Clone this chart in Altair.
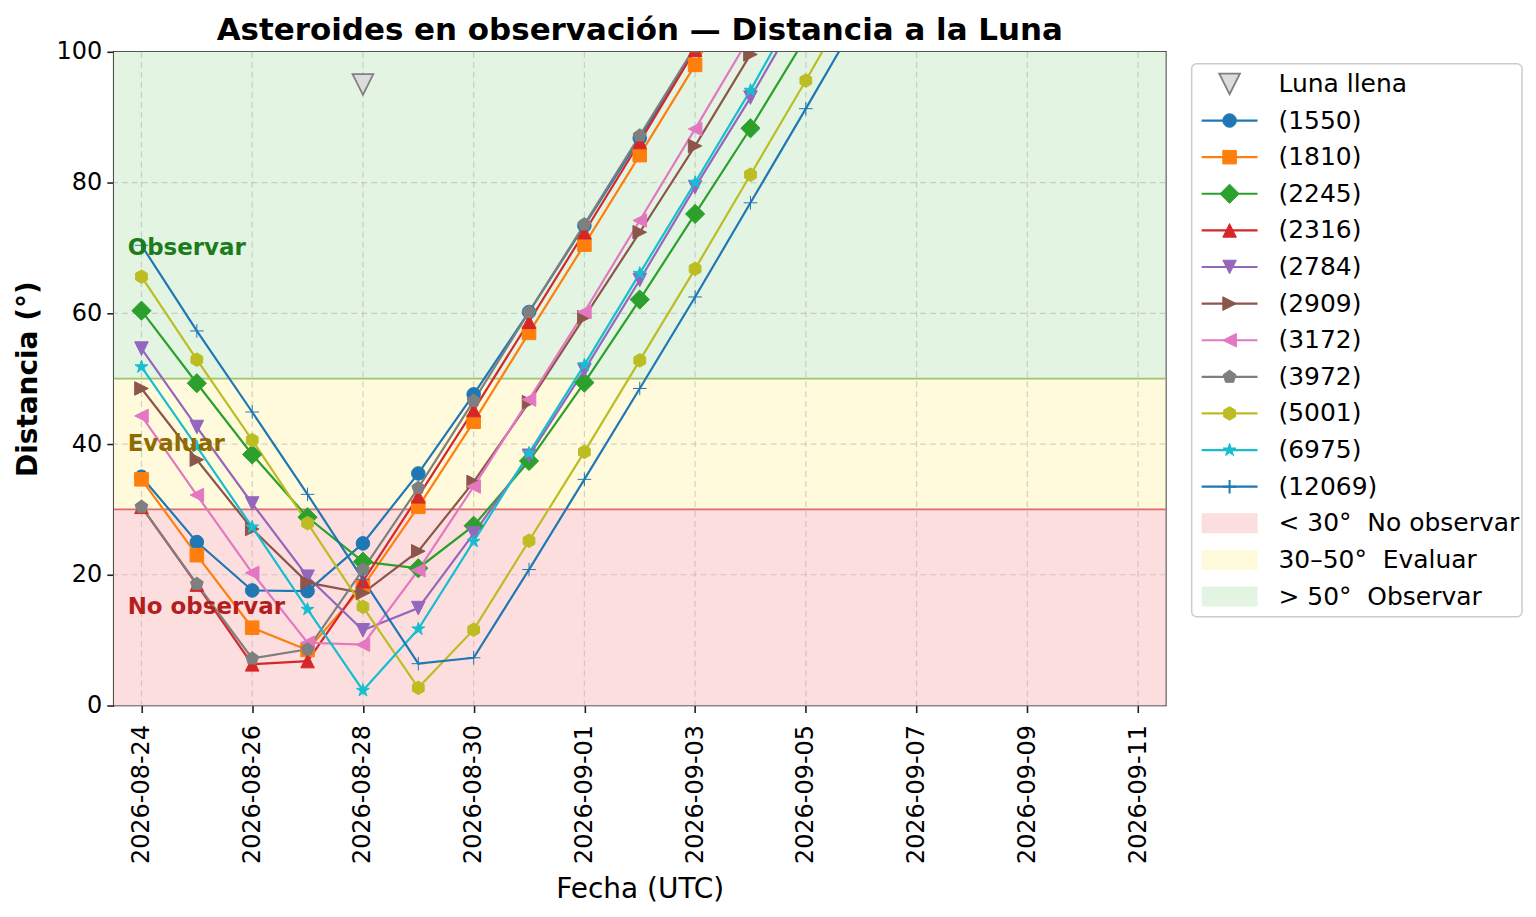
import pandas as pd
import altair as alt

# --- data ------------------------------------------------------------------
dates = ["2026-08-24", "2026-08-25", "2026-08-26", "2026-08-27", "2026-08-28",
         "2026-08-29", "2026-08-30", "2026-08-31", "2026-09-01", "2026-09-02",
         "2026-09-03", "2026-09-04", "2026-09-05", "2026-09-06"]

names = ["(1550)", "(1810)", "(2245)", "(2316)", "(2784)", "(2909)",
         "(3172)", "(3972)", "(5001)", "(6975)", "(12069)"]

d1550  = [35.0, 25.0, 17.6, 17.5, 24.8, 35.5, 47.6, 60.2, 73.4, 86.8, 100.6, 114.0]
d1810  = [34.6, 23.0, 11.9, 8.5, 18.2, 30.4, 43.4, 57.0, 70.5, 84.2, 98.0, 113.8]
d2245  = [60.4, 49.3, 38.4, 28.8, 22.0, 21.0, 27.5, 37.4, 49.4, 62.1, 75.2, 88.3, 102.2, 115.5]
d2316  = [30.4, 18.5, 6.3, 6.8, 19.0, 32.0, 45.2, 58.7, 72.4, 86.2, 100.3, 114.0]
d2784  = [54.6, 42.6, 30.9, 19.7, 11.5, 14.9, 26.3, 38.2, 51.3, 65.1, 79.3, 93.0, 107.7]
d2909  = [48.5, 37.6, 27.0, 18.8, 17.2, 23.6, 34.2, 46.4, 59.4, 72.4, 85.6, 99.6, 113.5]
d3172  = [44.3, 32.2, 20.3, 9.6, 9.3, 20.7, 33.5, 46.8, 60.2, 74.2, 88.2, 102.5]
d3972  = [30.4, 18.6, 7.2, 8.6, 20.8, 33.3, 46.6, 60.2, 73.6, 87.2, 100.8, 114.5]
d5001  = [65.6, 52.9, 40.6, 27.9, 15.1, 2.7, 11.6, 25.2, 38.8, 52.8, 66.8, 81.2, 95.6, 110.5]
d6975  = [51.8, 39.6, 27.3, 14.7, 2.3, 11.7, 25.1, 38.6, 52.1, 66.1, 80.0, 94.1, 109.3]
d12069 = [70.4, 57.3, 44.9, 32.3, 19.3, 6.4, 7.3, 20.8, 34.6, 48.5, 62.5, 76.9, 91.3, 105.9]
series = [d1550, d1810, d2245, d2316, d2784, d2909, d3172, d3972, d5001, d6975, d12069]

colors = ["#1f77b4", "#ff7f0e", "#2ca02c", "#d62728", "#9467bd", "#8c564b",
          "#e377c2", "#7f7f7f", "#bcbd22", "#17becf", "#1f77b4"]

# matplotlib-like markers as vega symbol paths
DIAMOND = "M0,-1.414L1.414,0L0,1.414L-1.414,0Z"
TRI_UP = "M0,-1L1,1L-1,1Z"
TRI_DOWN = "M0,1L1,-1L-1,-1Z"
TRI_RIGHT = "M1,0L-1,-1L-1,1Z"
TRI_LEFT = "M-1,0L1,-1L1,1Z"
PENTAGON = "M0,-1L0.951,-0.309L0.588,0.809L-0.588,0.809L-0.951,-0.309Z"
HEXAGON = "M0,-1L0.866,-0.5L0.866,0.5L0,1L-0.866,0.5L-0.866,-0.5Z"
STAR = ("M0,-1L0.2245,-0.309L0.951,-0.309L0.363,0.118L0.588,0.809L0,0.382"
        "L-0.588,0.809L-0.363,0.118L-0.951,-0.309L-0.2245,-0.309Z")
PLUS = "M-1,0L1,0M0,-1L0,1"
SWATCH = "M-2.8,-1L2.8,-1L2.8,1L-2.8,1Z"
shapes = ["circle", "square", DIAMOND, TRI_UP, TRI_DOWN, TRI_RIGHT, TRI_LEFT,
          PENTAGON, HEXAGON, STAR, PLUS]
edge = [1, 1, 1, 1, 1, 1, 1, 1, 1, 1, 2]

moon_date = ["2026-08-28"]
moon_value = [95]

band_lo = [0, 30, 50]
band_hi = [30, 50, 100]
band_fill = ["#fddede", "#fffadc", "#e3f4e2"]
band_legend = ["< 30°\u00a0\u00a0No observar", "30–50°\u00a0\u00a0Evaluar", "> 50°\u00a0\u00a0Observar"]

thr_value = [30, 50]
thr_color = ["#dc6b6b", "#9cc46c"]

zone_text = ["Observar", "Evaluar", "No observar"]
zone_value = [70, 40, 15]
zone_color = ["#1c7c1c", "#8f6c00", "#b31e1e"]
zone_date = "2026-08-23T18:00:00Z"

tick_dates = ["2026-08-24", "2026-08-26", "2026-08-28", "2026-08-30", "2026-09-01",
              "2026-09-03", "2026-09-05", "2026-09-07", "2026-09-09", "2026-09-11"]
y_ticks = [0, 20, 40, 60, 80, 100]
y_grid = [20, 40, 60, 80]

# --- tables -----------------------------------------------------------------
rows = []
for name, vals in zip(names, series):
    for d, v in zip(dates, vals):
        rows.append({"date": d, "name": name, "value": v})
df = pd.DataFrame(rows)

bands = pd.DataFrame({"value": band_lo, "value2": band_hi, "fill": band_fill})
thr = pd.DataFrame({"value": thr_value, "c": thr_color})
zones = pd.DataFrame({"date": [zone_date] * 3, "value": zone_value,
                      "text": zone_text, "c": zone_color})
moon = pd.DataFrame({"date": moon_date, "value": moon_value})
vgrid = pd.DataFrame({"date": tick_dates})
hgrid = pd.DataFrame({"value": y_grid})

FONT = "DejaVu Sans"

x_enc = alt.X(
    "date:T",
    scale=alt.Scale(type="utc", domain=[
        alt.DateTime(year=2026, month=8, date=23, hours=12, utc=True),
        alt.DateTime(year=2026, month=9, date=11, hours=12, utc=True)]),
    axis=alt.Axis(values=[alt.DateTime(year=int(t[:4]), month=int(t[5:7]), date=int(t[8:]), utc=True)
                          for t in tick_dates],
                  format="%Y-%m-%d", labelAngle=270, title="Fecha (UTC)",
                  grid=False, domain=False, tickSize=7, tickWidth=1.6, tickColor="#222222",
                  labelFontSize=24, labelColor="black", labelPadding=12,
                  titleFontSize=28, titleFontWeight="normal", titleColor="black",
                  titlePadding=12, labelFont=FONT, titleFont=FONT),
)
y_enc = alt.Y(
    "value:Q",
    scale=alt.Scale(domain=[0, 100], nice=False, zero=False),
    axis=alt.Axis(values=y_ticks, title="Distancia (°)", grid=False, domain=False,
                  tickSize=7, tickWidth=1.6, tickColor="#222222",
                  labelFontSize=24, labelColor="black", labelPadding=5,
                  titleFontSize=28, titleFontWeight="bold", titleColor="black",
                  titlePadding=14, labelFont=FONT, titleFont=FONT),
)
color_scale = alt.Scale(domain=names, range=colors)

band_layer = alt.Chart(bands).mark_rect().encode(
    y=y_enc, y2="value2:Q", color=alt.Color("fill:N", scale=None))
vgrid_layer = alt.Chart(vgrid).mark_rule(
    color="#aaaaaa", opacity=0.5, strokeDash=[6, 4], strokeWidth=1.2).encode(x=x_enc)
hgrid_layer = alt.Chart(hgrid).mark_rule(
    color="#aaaaaa", opacity=0.5, strokeDash=[6, 4], strokeWidth=1.2).encode(y=y_enc)
thr_layer = alt.Chart(thr).mark_rule(strokeWidth=1.8).encode(
    y=y_enc, color=alt.Color("c:N", scale=None))

lines = alt.Chart(df).mark_line(strokeWidth=2.2, clip=True).encode(
    x=x_enc, y=y_enc,
    color=alt.Color("name:N", scale=color_scale, legend=None),
    detail="name:N")
points = alt.Chart(df).mark_point(filled=True, size=185, opacity=1, clip=True).encode(
    x=x_enc, y=y_enc,
    fill=alt.Fill("name:N", scale=color_scale, legend=None),
    stroke=alt.Stroke("name:N", scale=color_scale, legend=None),
    shape=alt.Shape("name:N", scale=alt.Scale(domain=names, range=shapes), legend=None),
    strokeWidth=alt.StrokeWidth("name:N", scale=alt.Scale(domain=names, range=edge), legend=None))
zone_layer = alt.Chart(zones).mark_text(
    align="left", baseline="middle", fontSize=23, fontWeight="bold", font=FONT).encode(
    x=x_enc, y=y_enc, text="text:N", color=alt.Color("c:N", scale=None))
moon_layer = alt.Chart(moon).mark_point(
    shape=TRI_DOWN, size=430, filled=True, fill="#dcdcdc", stroke="#808080",
    strokeWidth=1.8, opacity=1).encode(x=x_enc, y=y_enc)

main = alt.layer(
    band_layer, vgrid_layer, hgrid_layer, thr_layer, lines, points, zone_layer, moon_layer
).properties(
    width=1054, height=655,
    title=alt.TitleParams("Asteroides en observación — Distancia a la Luna",
                          fontSize=31, fontWeight="bold", font=FONT, color="black",
                          anchor="middle", frame="group", offset=-7),
    view=alt.ViewBackground(stroke="#222222", strokeWidth=1.7),
)

# --- legend panel -----------------------------------------------------------
leg_labels = ["Luna llena"] + names + band_legend
leg = pd.DataFrame({
    "label": leg_labels,
    "kind": ["moon"] + ["series"] * len(names) + ["band"] * 3,
    "c": ["#dcdcdc"] + colors + band_fill,
    "s": [TRI_DOWN] + shapes + [SWATCH] * 3,
    "sw": [1.8] + edge + [0, 0, 0],
    "sc": ["#808080"] + colors + band_fill,
    "sz": [430] + [185] * len(names) + [400] * 3,
})
ly = alt.Y("label:N", sort=leg_labels, scale=alt.Scale(type="point", padding=0.55), axis=None)
leg_base = alt.Chart(leg)
leg_lines = leg_base.mark_rule(strokeWidth=2.2).encode(
    x=alt.value(10), x2=alt.value(66), y=ly, color=alt.Color("c:N", scale=None)
).transform_filter(alt.datum.kind == "series")
leg_marks = leg_base.mark_point(filled=True, opacity=1).encode(
    x=alt.value(38), y=ly,
    fill=alt.Fill("c:N", scale=None),
    stroke=alt.Stroke("sc:N", scale=None),
    strokeWidth=alt.StrokeWidth("sw:Q", scale=None),
    shape=alt.Shape("s:N", scale=None),
    size=alt.Size("sz:Q", scale=None),
)
leg_text = leg_base.mark_text(align="left", baseline="middle", fontSize=25, font=FONT,
                              color="black").encode(
    x=alt.value(87), y=ly, text="label:N")
legend = alt.layer(leg_lines, leg_marks, leg_text).properties(
    width=331, height=554,
    view=alt.ViewBackground(stroke="#cccccc", strokeWidth=1.5, cornerRadius=5, fill="white"),
)

# thin invisible spacer so the legend box starts a little below the plot top
spacer = alt.Chart(pd.DataFrame({"a": [0]})).mark_text(text="").encode(
    x=alt.value(0), y=alt.value(0)
).properties(width=331, height=1,
             view=alt.ViewBackground(stroke="transparent", fill="transparent"))

chart = alt.hconcat(
    main, alt.vconcat(spacer, legend, spacing=5), spacing=23
).properties(
    padding={"left": 5, "top": 5, "right": 5, "bottom": 5},
    background="white",
)

chart.save("out.html", embed_options={"renderer": "svg", "actions": False})
